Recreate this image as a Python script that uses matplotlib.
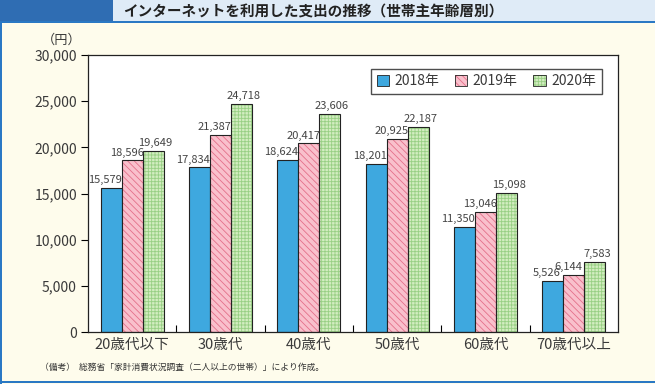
import matplotlib
matplotlib.use('Agg')
import matplotlib.pyplot as plt
from matplotlib.patches import Rectangle, Patch
import numpy as np

plt.rcParams['font.family'] = ['Noto Sans CJK JP', 'DejaVu Sans']
plt.rcParams['hatch.linewidth'] = 0.6

# Data
categories = ['20歳代以下', '30歳代', '40歳代', '50歳代', '60歳代', '70歳代以上']
years = ['2018年', '2019年', '2020年']
v2018 = [15579, 17834, 18624, 18201, 11350, 5526]
v2019 = [18596, 21387, 20417, 20925, 13046, 6144]
v2020 = [19649, 24718, 23606, 22187, 15098, 7583]
yticks = [0, 5000, 10000, 15000, 20000, 25000, 30000]

W, H = 655, 384
fig = plt.figure(figsize=(W / 100, H / 100), dpi=100)
fig.patch.set_facecolor('#fefcec')

# Header band
fig.add_artist(Rectangle((113 / W, 1 - 21 / H), 1, 21 / H, transform=fig.transFigure,
                         facecolor='#dfebf7', edgecolor='none'))
fig.add_artist(Rectangle((0, 1 - 21 / H), 113 / W, 21 / H, transform=fig.transFigure,
                         facecolor='#2f6db3', edgecolor='none'))
fig.add_artist(Rectangle((0, 1 - 23 / H), 1, 2 / H, transform=fig.transFigure,
                         facecolor='#2a78c4', edgecolor='none'))
# left and bottom borders
fig.add_artist(Rectangle((0, 0), 2 / W, 1 - 21 / H, transform=fig.transFigure,
                         facecolor='#2a78c4', edgecolor='none'))
fig.add_artist(Rectangle((0, 1 / H), 1, 2 / H, transform=fig.transFigure,
                         facecolor='#2a78c4', edgecolor='none'))

fig.text(123 / W, 1 - 11 / H, 'インターネットを利用した支出の推移（世帯主年齢層別）',
         fontsize=10.5, fontweight='bold', color='#222222', va='center', ha='left')

ax = fig.add_axes([88 / W, (H - 332) / H, (618 - 88) / W, (332 - 55) / H])
ax.set_facecolor('white')

x = np.arange(len(categories))
bw = 0.238

blue = '#3ea8df'
pink_face, pink_hatch = '#f9c0cc', '#e4708a'
green_face, green_hatch = '#d2edc0', '#98cf84'

ax.bar(x - bw, v2018, bw, color=blue, edgecolor='#222222', linewidth=0.8, zorder=2)
ax.bar(x, v2019, bw, color=pink_face, edgecolor=pink_hatch, hatch='\\\\\\\\\\', linewidth=0, zorder=2)
ax.bar(x, v2019, bw, color='none', edgecolor='#222222', linewidth=0.8, zorder=3)
ax.bar(x + bw, v2020, bw, color=green_face, edgecolor=green_hatch, hatch='+++++', linewidth=0, zorder=2)
ax.bar(x + bw, v2020, bw, color='none', edgecolor='#222222', linewidth=0.8, zorder=3)

# value labels
for vals, off, dx in [(v2018, -bw, -4.5), (v2019, 0, -4), (v2020, bw, 1.5)]:
    for xi, v in zip(x, vals):
        ax.annotate(f'{v:,}', (xi + off, v), xytext=(dx, 2), textcoords='offset points',
                    ha='center', va='bottom', fontsize=8, color='#444444')

ax.set_xlim(-0.5, len(categories) - 0.5)
ax.set_ylim(0, 30000)
ax.set_yticks(yticks)
ax.set_yticklabels([f'{t:,}' for t in yticks], fontsize=10, color='#3a3a3a')
ax.tick_params(axis='y', direction='out', length=5, width=0.8, pad=3)

ax.set_xticks(np.arange(0.5, len(categories) - 0.5))
ax.set_xticklabels([])
ax.tick_params(axis='x', which='major', direction='in', length=5, width=0.8)
ax.set_xticks(x, minor=True)
ax.set_xticklabels(categories, minor=True, fontsize=10.5, color='#3a3a3a')
ax.tick_params(axis='x', which='minor', length=0, pad=4)

for s in ax.spines.values():
    s.set_linewidth(0.9)
    s.set_color('#222222')

fig.text(62 / W, 1 - 40 / H, '（円）', fontsize=9.5, color='#3a3a3a', ha='center', va='center')

handles = [
    Patch(facecolor=blue, edgecolor='#222222', linewidth=0.6),
    (Patch(facecolor=pink_face, edgecolor=pink_hatch, hatch='\\\\\\\\\\', linewidth=0),
     Patch(facecolor='none', edgecolor='#222222', linewidth=0.6)),
    (Patch(facecolor=green_face, edgecolor=green_hatch, hatch='+++++', linewidth=0),
     Patch(facecolor='none', edgecolor='#222222', linewidth=0.6)),
]
leg = ax.legend(handles, years, ncol=3, loc='upper right', bbox_to_anchor=(0.982, 0.975),
                fontsize=10, frameon=True, fancybox=False, handlelength=0.9, handleheight=0.9,
                handletextpad=0.4, columnspacing=1.1, borderpad=0.4, labelcolor='#3a3a3a')
leg.get_frame().set_edgecolor('#222222')
leg.get_frame().set_linewidth(1.0)

fig.text(40 / W, 1 - 367 / H, '（備考）  総務省「家計消費状況調査（二人以上の世帯）」により作成。',
         fontsize=6.3, color='#333333', ha='left', va='center')

fig.savefig('out.png', dpi=100, facecolor=fig.get_facecolor())
